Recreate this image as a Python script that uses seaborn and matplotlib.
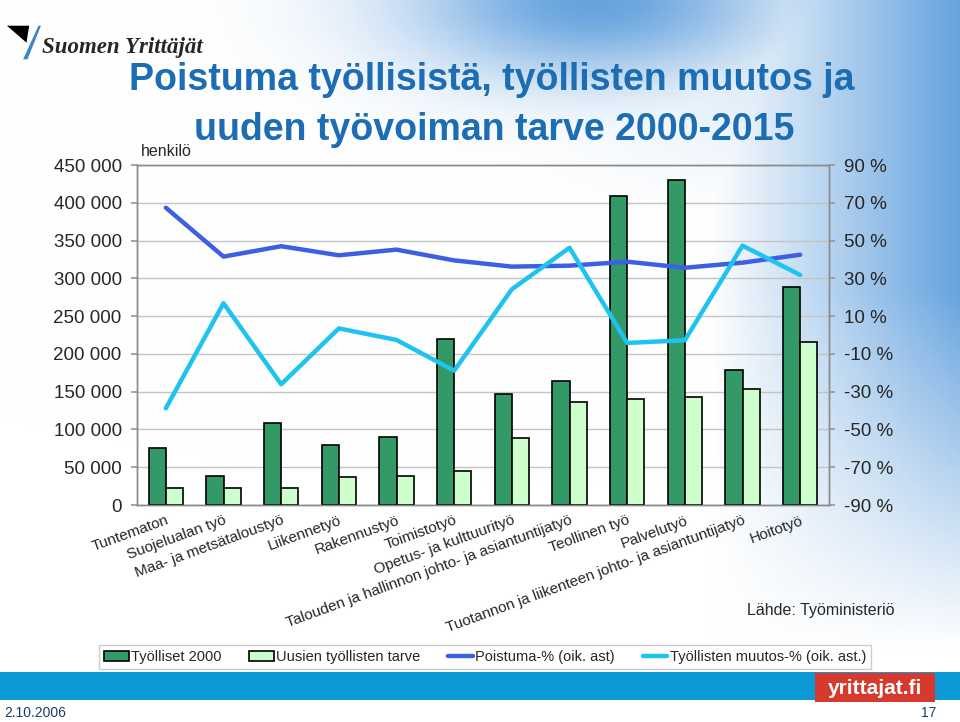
import numpy as np
import pandas as pd
import matplotlib
matplotlib.use('Agg')
import matplotlib.pyplot as plt
import seaborn as sns
from matplotlib.patches import Rectangle, Polygon

sns.set_theme(style='white')
plt.rcParams['font.family'] = ['Liberation Sans', 'DejaVu Sans']

categories = [
    "Tuntematon",
    "Suojelualan työ",
    "Maa- ja metsätaloustyö",
    "Liikennetyö",
    "Rakennustyö",
    "Toimistotyö",
    "Opetus- ja kulttuurityö",
    "Talouden ja hallinnon johto- ja asiantuntijatyö",
    "Teollinen työ",
    "Palvelutyö",
    "Tuotannon ja liikenteen johto- ja asiantuntijatyö",
    "Hoitotyö",
]
tyolliset_2000 = [75000, 38400, 108000, 80000, 89600, 219700,
                  146500, 164100, 408500, 429700, 179100, 288900]
uusien_tarve = [22100, 22100, 23000, 37100, 38000, 45400,
                88200, 135900, 140700, 142900, 153500, 216100]
poistuma_pct = [67.4, 41.5, 47.0, 42.2, 45.2, 39.5,
                36.2, 36.7, 38.8, 35.6, 38.3, 42.5]
muutos_pct = [-38.8, 16.8, -26.1, 3.5, -2.6, -18.9,
              24.2, 46.2, -4.2, -2.8, 47.3, 31.8]

series_names = ["Työlliset 2000", "Uusien työllisten tarve"]
line_names = ["Poistuma-% (oik. ast)", "Työllisten muutos-% (oik. ast.)"]
left_ticks = list(range(0, 450001, 50000))
right_ticks = list(range(-90, 91, 20))

W, H = 960, 722
fig = plt.figure(figsize=(W / 100, H / 100), dpi=100)

# background gradient
bg = fig.add_axes([0, 0, 1, 1], zorder=-10)
yy, xx = np.mgrid[0:1:200j, 0:1:266j]
blob = np.exp(-(((xx - 0.62) / 0.2) ** 2 + ((yy - 0.0) / 0.11) ** 2))
side = np.clip((xx - 0.74) / 0.26, 0, 1) * np.clip((0.9 - yy) / 0.5, 0, 1)
side2 = np.clip((xx - 0.5) / 0.5, 0, 1) * np.clip((0.3 - yy) / 0.3, 0, 1) * 0.6
inten = np.clip(np.maximum(np.maximum(blob, side), side2), 0, 1) * 0.85
blue = np.array([0.30, 0.58, 0.85])
img = (1 - inten[..., None]) * 1.0 + inten[..., None] * blue
bg.imshow(img, aspect='auto', extent=[0, 1, 0, 1], origin='upper')
bg.set_xlim(0, 1)
bg.set_ylim(0, 1)
bg.axis('off')

ax = fig.add_axes([137 / W, 1 - 505 / H, (829 - 137) / W, (505 - 165) / H])
ax.patch.set_alpha(0)

df = pd.DataFrame({
    "Ammatti": categories * 2,
    "Henkilöä": tyolliset_2000 + uusien_tarve,
    "Sarja": [series_names[0]] * len(categories) + [series_names[1]] * len(categories),
})
sns.barplot(data=df, x="Ammatti", y="Henkilöä", hue="Sarja", order=categories,
            palette=["#339966", "#ccffcc"], saturation=1, width=0.6,
            edgecolor="black", linewidth=1.2, errorbar=None, ax=ax, zorder=3)
bar_handles, bar_labels = ax.get_legend_handles_labels()
if ax.get_legend() is not None:
    ax.get_legend().remove()

ax2 = ax.twinx()
ax2.patch.set_alpha(0)
pos = np.arange(len(categories))
sns.lineplot(x=pos, y=poistuma_pct, color="#3f5fe3", linewidth=3.2,
             label=line_names[0], ax=ax2, zorder=4)
sns.lineplot(x=pos, y=muutos_pct, color="#1fc3ef", linewidth=3.2,
             label=line_names[1], ax=ax2, zorder=4)
line_handles, line_labels = ax2.get_legend_handles_labels()
if ax2.get_legend() is not None:
    ax2.get_legend().remove()

ax.set_xlim(-0.5, len(categories) - 0.5)
ax.set_ylim(0, 450000)
ax.set_yticks(left_ticks)
ax.set_yticklabels([f"{v:,}".replace(",", " ") for v in left_ticks], fontsize=13.5)
ax2.set_ylim(-90, 90)
ax2.set_yticks(right_ticks)
ax2.set_yticklabels([f"{v} %" for v in right_ticks], fontsize=13.5)
ax.set_xlabel("")
ax.set_ylabel("")
ax2.set_ylabel("")

ax.set_xticks(pos)
ax.set_xticklabels(categories, rotation=20, ha="right", va="top",
                   rotation_mode="anchor", fontsize=11)
ax.set_xticks(np.arange(-0.5, len(categories), 1), minor=True)
ax.tick_params(axis="x", which="major", length=0, pad=6)
ax.tick_params(axis="x", which="minor", length=8, direction="inout", color="#999999")
ax.tick_params(axis="y", length=4, direction="out", color="#999999", pad=7, left=True)
ax2.tick_params(axis="y", length=4, direction="out", color="#999999", pad=6.5, right=True)

ax.yaxis.grid(True, color="#c4c4c4", linewidth=1)
ax.set_axisbelow(True)
for a in (ax, ax2):
    for s in a.spines.values():
        s.set_color("#8a8a8a")
        s.set_linewidth(1)

fig.legend(bar_handles + line_handles, bar_labels + line_labels,
           loc="center", bbox_to_anchor=(485 / W, 1 - 657 / H), ncol=4,
           fontsize=10.5, frameon=True, fancybox=False, edgecolor="#cccccc",
           framealpha=1, handlelength=1.7, handletextpad=0.15,
           columnspacing=1.9, borderpad=0.35)

# texts
fig.text(492 / W, 1 - 80 / H, "Poistuma työllisistä, työllisten muutos ja",
         ha="center", va="center", fontsize=27, fontweight="bold", color="#1c6db3")
fig.text(494 / W, 1 - 130 / H, "uuden työvoiman tarve 2000-2015",
         ha="center", va="center", fontsize=27, fontweight="bold", color="#1c6db3")
fig.text(141 / W, 1 - 151 / H, "henkilö", ha="left", va="center", fontsize=11.5)
fig.text(747 / W, 1 - 610 / H, "Lähde: Työministeriö", ha="left", va="center", fontsize=11.5)

# logo
fig.patches.append(Polygon([(5 / W, 1 - 25 / H), (30 / W, 1 - 25 / H), (27 / W, 1 - 44 / H)],
                           closed=True, transform=fig.transFigure, facecolor="black"))
fig.patches.append(Polygon([(22 / W, 1 - 60 / H), (38 / W, 1 - 25 / H), (42 / W, 1 - 25 / H), (28 / W, 1 - 60 / H)],
                           closed=True, transform=fig.transFigure, facecolor="#3a86c8"))
fig.text(42 / W, 1 - 48 / H, "Suomen Yrittäjät", ha="left", va="center", fontsize=16.5,
         fontweight="bold", fontstyle="italic", family="Liberation Serif")

# bottom band
fig.patches.append(Rectangle((0, 1 - 700 / H), 1, 28 / H, transform=fig.transFigure,
                             facecolor="#0b9ad5", edgecolor="none"))
fig.patches.append(Rectangle((815 / W, 1 - 702 / H), 120 / W, 29 / H, transform=fig.transFigure,
                             facecolor="#d63a2c", edgecolor="none"))
fig.text(875 / W, 1 - 688 / H, "yrittajat.fi", ha="center", va="center", fontsize=15,
         fontweight="bold", color="white")
fig.text(4 / W, 1 - 713 / H, "2.10.2006", ha="left", va="center", fontsize=10, color="#1a3c6e")
fig.text(936 / W, 1 - 713 / H, "17", ha="right", va="center", fontsize=10, color="#1a3c6e")

fig.savefig("out.png", dpi=100)
